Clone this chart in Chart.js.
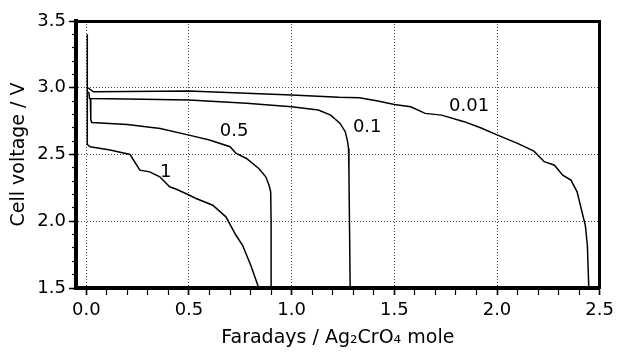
<!DOCTYPE html>
<html><head><meta charset="utf-8">
<script src="https://cdn.jsdelivr.net/npm/chart.js@4"></script>
<style>html,body{margin:0;padding:0;background:#fff}canvas{display:block}</style>
</head><body>
<canvas id="c" width="619" height="353"></canvas>
<script>
// Discharge curves, labelled by current density
const rateLabels = ['0.01', '0.1', '0.5', '1'];

const x001 = [0.008, 0.035, 0.2, 0.5, 0.78, 1.0, 1.23, 1.33, 1.42, 1.5, 1.58, 1.65, 1.73, 1.84, 1.92, 2.0, 2.1, 2.18, 2.23, 2.28, 2.32, 2.36, 2.39, 2.41, 2.43, 2.44, 2.447];
const y001 = [3.0, 2.97, 2.972, 2.975, 2.958, 2.945, 2.928, 2.925, 2.9, 2.875, 2.858, 2.808, 2.795, 2.746, 2.70, 2.647, 2.583, 2.525, 2.446, 2.42, 2.345, 2.308, 2.22, 2.095, 1.97, 1.82, 1.5];

const x01 = [0.012, 0.016, 0.2, 0.5, 0.78, 1.0, 1.13, 1.19, 1.236, 1.261, 1.272, 1.277, 1.279, 1.282, 1.285];
const y01 = [2.97, 2.92, 2.915, 2.908, 2.883, 2.858, 2.833, 2.795, 2.733, 2.671, 2.6, 2.545, 2.373, 1.945, 1.5];

const x05 = [0.02, 0.022, 0.027, 0.2, 0.36, 0.5, 0.6, 0.7, 0.73, 0.78, 0.84, 0.874, 0.89, 0.898, 0.9, 0.9];
const y05 = [2.92, 2.76, 2.74, 2.725, 2.695, 2.645, 2.608, 2.558, 2.508, 2.47, 2.395, 2.333, 2.27, 2.22, 2.0, 1.5];

const x1 = [0.005, 0.005, 0.019, 0.116, 0.213, 0.261, 0.309, 0.358, 0.406, 0.439, 0.503, 0.535, 0.616, 0.68, 0.729, 0.761, 0.801, 0.84];
const y1 = [3.40, 2.575, 2.558, 2.533, 2.5, 2.383, 2.37, 2.333, 2.258, 2.24, 2.195, 2.17, 2.12, 2.033, 1.895, 1.82, 1.67, 1.5];

// Curve label anchor points (data coordinates)
const curveLabelX = [1.864, 1.368, 0.72, 0.387];
const curveLabelY = [2.86, 2.70, 2.67, 2.365];

// Axis ticks
const xMajorTicks = [0.0, 0.5, 1.0, 1.5, 2.0, 2.5];
const yMajorTicks = [1.5, 2.0, 2.5, 3.0, 3.5];
const X_MIN = -0.05, X_MAX = 2.5, Y_MIN = 1.5, Y_MAX = 3.5;
const xTitle = 'Faradays / Ag\u2082CrO\u2084 mole';
const yTitle = 'Cell voltage / V';

const minorX = []; for (let i = 0; i <= 25; i++) minorX.push(i / 10);
const minorY = []; for (let i = 15; i <= 35; i++) minorY.push(i / 10);

const FONT = { family: 'DejaVu Sans', size: 18 };
const TFONT = { family: 'DejaVu Sans', size: 19 };
Chart.defaults.color = '#000';
Chart.defaults.font.family = 'DejaVu Sans';
Chart.defaults.font.size = 18;

function pts(xs, ys) { return xs.map((x, i) => ({ x: x, y: ys[i] })); }
const series = [[x001, y001], [x01, y01], [x05, y05], [x1, y1]];

const curveLabelPlugin = {
  id: 'curveLabels',
  afterDatasetsDraw(chart) {
    const ctx = chart.ctx, xs = chart.scales.x, ys = chart.scales.y;
    ctx.save();
    ctx.font = '18px "DejaVu Sans"';
    ctx.fillStyle = '#000';
    ctx.textAlign = 'center';
    ctx.textBaseline = 'middle';
    rateLabels.forEach((t, i) => {
      ctx.fillText(t, xs.getPixelForValue(curveLabelX[i]), ys.getPixelForValue(curveLabelY[i]));
    });
    ctx.restore();
  }
};

new Chart(document.getElementById('c'), {
  type: 'scatter',
  data: {
    datasets: series.map((s, i) => ({
      label: rateLabels[i],
      data: pts(s[0], s[1]),
      showLine: true,
      borderColor: '#000',
      borderWidth: 1.5,
      pointRadius: 0,
      tension: 0,
      fill: false,
      xAxisID: 'x',
      yAxisID: 'y'
    }))
  },
  options: {
    responsive: false,
    animation: false,
    devicePixelRatio: 1,
    layout: { padding: { top: 21, right: 17, left: 0, bottom: 0 } },
    plugins: { legend: { display: false }, tooltip: { enabled: false } },
    scales: {
      x: {
        type: 'linear', position: 'bottom', min: X_MIN, max: X_MAX, weight: 1,
        afterBuildTicks: s => { s.ticks = xMajorTicks.map(v => ({ value: v })); },
        afterFit: s => { s.height = 65; },
        ticks: { callback: v => Number(v).toFixed(1), padding: 5, maxRotation: 0, autoSkip: false, font: FONT },
        grid: { color: '#444', lineWidth: 1, tickLength: 7, tickColor: '#000', tickWidth: 1.5 },
        border: { color: '#000', width: 4, dash: [1, 2] },
        title: { display: true, text: xTitle, font: TFONT, padding: { top: 0, bottom: 4 } }
      },
      xMinor: {
        type: 'linear', position: 'bottom', min: X_MIN, max: X_MAX, weight: 0,
        afterBuildTicks: s => { s.ticks = minorX.map(v => ({ value: v })); },
        afterFit: s => { s.height = 0; },
        ticks: { display: false },
        grid: { drawOnChartArea: false, tickLength: 7, tickColor: '#000', tickWidth: 1.2 },
        border: { display: false }
      },
      x2: {
        type: 'linear', position: 'top', min: X_MIN, max: X_MAX,
        afterFit: s => { s.height = 0; },
        ticks: { display: false },
        grid: { display: false },
        border: { display: true, color: '#000', width: 3 }
      },
      y: {
        type: 'linear', position: 'left', min: Y_MIN, max: Y_MAX, weight: 1,
        afterBuildTicks: s => { s.ticks = yMajorTicks.map(v => ({ value: v })); },
        afterFit: s => { s.width = 76; },
        ticks: { callback: v => Number(v).toFixed(1), padding: 3, font: FONT },
        grid: { color: '#444', lineWidth: 1, tickLength: 7, tickColor: '#000', tickWidth: 1.5 },
        border: { color: '#000', width: 4, dash: [1, 2] },
        title: { display: true, text: yTitle, font: TFONT, padding: { top: 8, bottom: 0 } }
      },
      yMinor: {
        type: 'linear', position: 'left', min: Y_MIN, max: Y_MAX, weight: 0,
        afterBuildTicks: s => { s.ticks = minorY.map(v => ({ value: v })); },
        afterFit: s => { s.width = 0; },
        ticks: { display: false },
        grid: { drawOnChartArea: false, tickLength: 4, tickColor: '#000', tickWidth: 1.2 },
        border: { display: false }
      },
      y2: {
        type: 'linear', position: 'right', min: Y_MIN, max: Y_MAX,
        afterFit: s => { s.width = 0; },
        ticks: { display: false },
        grid: { display: false },
        border: { display: true, color: '#000', width: 3 }
      }
    }
  },
  plugins: [curveLabelPlugin]
});
</script>
</body></html>
